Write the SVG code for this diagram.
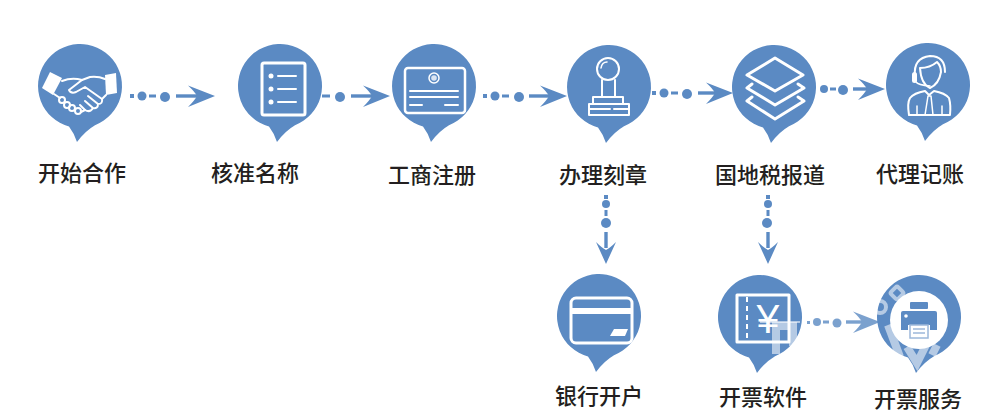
<svg xmlns="http://www.w3.org/2000/svg" width="985" height="419" viewBox="0 0 985 419">
<style>
.b{fill:#5b8ac3}
.s{fill:none;stroke:#fff;stroke-width:2;stroke-linejoin:round;stroke-linecap:round}
.w{fill:#fff}
.l{font-family:"Noto Sans CJK SC","Liberation Sans",sans-serif;font-size:22px;font-weight:500;fill:#231f20;text-anchor:middle}
.c{fill:none;stroke:#5b8ac3;stroke-width:3.4}
.d{fill:#5b8ac3}
.m{fill:none;stroke:#fff;stroke-opacity:.55;stroke-width:8}
</style>
<defs>
<path id="bubble" class="b" d="M-11 40.5A42 42 0 1 1 15 39.2Q5 45 -3 56Q-6 47 -11 40.5Z"/>
<path id="headR" class="d" d="M0 0L-27 -10.5Q-20 -4 -18 0Q-20 4 -27 11Z"/>
<path id="headD" class="d" d="M0 0L-10 -22Q-4 -16 0 -14Q4 -16 10 -22Z"/>
</defs>
<rect width="985" height="419" fill="#fff"/>
<g id="connectors">
<g id="c1"><rect class="d" x="130" y="94" width="4" height="4"/><circle class="d" cx="142" cy="96" r="4.500"/><rect class="d" x="149" y="94.500" width="7" height="3"/><circle class="d" cx="165" cy="97" r="5"/><path class="c" d="M176 96H200"/><use href="#headR" x="215" y="96"/></g>
<g id="c2"><rect class="d" x="322" y="94.500" width="8" height="3"/><circle class="d" cx="340" cy="97" r="5"/><path class="c" d="M351 96H375"/><use href="#headR" x="390" y="96"/></g>
<g id="c3"><rect class="d" x="483" y="94" width="4" height="4"/><circle class="d" cx="495" cy="96" r="4.500"/><rect class="d" x="502" y="94.500" width="7" height="3"/><circle class="d" cx="519" cy="97" r="5"/><path class="c" d="M529 96H552"/><use href="#headR" x="567" y="96"/></g>
<g id="c4"><rect class="d" x="652" y="91" width="4" height="4"/><circle class="d" cx="664" cy="93" r="4.500"/><rect class="d" x="671" y="91.500" width="7" height="3"/><circle class="d" cx="687" cy="94" r="5"/><path class="c" d="M698 93H718"/><use href="#headR" x="733" y="93"/></g>
<g id="c5"><circle class="d" cx="824" cy="89" r="4"/><rect class="d" x="830" y="87.500" width="6" height="3"/><circle class="d" cx="843" cy="90" r="5"/><path class="c" d="M853 89H870"/><use href="#headR" x="885" y="89"/></g>
<g id="c6"><rect class="d" x="604" y="195" width="4" height="4"/><circle class="d" cx="606" cy="204" r="4"/><rect class="d" x="604.500" y="210" width="3" height="6"/><circle class="d" cx="606" cy="223" r="5"/><path class="c" d="M606 232V248"/><use href="#headD" x="606" y="264"/></g>
<g id="c7"><rect class="d" x="766" y="195" width="4" height="4"/><circle class="d" cx="768" cy="204" r="4"/><rect class="d" x="766.500" y="210" width="3" height="6"/><circle class="d" cx="767" cy="223" r="5"/><path class="c" d="M768 232V248"/><use href="#headD" x="768" y="264"/></g>
<g id="c8" opacity=".8"><rect class="d" x="807" y="321" width="3" height="3"/><circle class="d" cx="817" cy="322" r="4"/><rect class="d" x="823" y="320.500" width="6" height="3"/><circle class="d" cx="837" cy="323" r="4.500"/><path class="c" d="M846 322H865"/><use href="#headR" x="880" y="322"/></g>
</g>
<g id="n1"><use href="#bubble" x="80" y="86"/>
<path class="w" d="M50 72L62 78L53 95L42 88Z"/><path class="w" d="M105 75L116 73L117 93L106 95Z"/>
<path class="s" d="M62 81Q72 77 82 80L90 77Q98 76 105 79"/>
<path class="s" d="M82 80L69 90Q71 94 76 92L85 87L102 99Q103 104 98 104L88 96M98 104Q98 109 93 108L85 101M93 108Q90 113 85 110L80 105"/>
<path class="s" d="M54 94L60 98"/>
<circle class="s" cx="62" cy="100" r="3"/><circle class="s" cx="67" cy="105" r="3"/><circle class="s" cx="72" cy="108" r="3"/><circle class="s" cx="78" cy="111" r="3"/>
<path class="s" d="M81 112L85 110"/>
<path class="s" d="M102 99L106 95"/></g>
<g id="n2"><use href="#bubble" x="280" y="86"/>
<rect class="s" style="stroke-width:3" x="262" y="63" width="43" height="52" rx="2"/>
<circle class="w" cx="271" cy="76" r="2.500"/><circle class="w" cx="271" cy="89" r="2.500"/><circle class="w" cx="271" cy="102" r="2.500"/>
<path class="s" d="M278 76H296M278 89H296M278 102H296"/></g>
<g id="n3"><use href="#bubble" x="434" y="86"/>
<rect class="s" style="stroke-width:2.500" x="405" y="68" width="60" height="45" rx="3"/>
<circle class="s" style="stroke-width:1.500" cx="434" cy="78" r="5"/><circle fill="#dbe5f2" cx="434" cy="78" r="2.800"/>
<path class="s" d="M410 91H458M410 97H458M410 105H422M445 105H458"/></g>
<g id="n4"><use href="#bubble" x="609" y="87"/>
<circle class="s" cx="608" cy="69" r="11"/><path class="s" style="stroke-width:1.500" d="M601 68Q602 62 607 62"/>
<path class="s" d="M602 80V97M615 80V97M593 104V97H623V104M589 104H629V115H589ZM589 109H610M614 109H629"/></g>
<g id="n5"><use href="#bubble" x="774" y="87"/>
<path class="s" style="stroke-width:3" d="M747 75L775 58L803 75L775 91Z"/>
<path class="s" style="stroke-width:3" d="M752 84L747 88L775 105L804 88L798 84"/>
<path class="s" style="stroke-width:3" d="M752 97L747 101L775 119L804 101L798 97"/></g>
<g id="n6"><use href="#bubble" x="928" y="85"/>
<path class="s" d="M915 76Q913 58 930 56Q945 56 945 72"/>
<rect class="w" x="912" y="72" width="5" height="11" rx="2.500"/>
<path class="s" d="M920 68Q930 68 937 62Q941 66 941 72Q939 84 930 88Q921 84 920 68Z"/>
<path class="s" style="stroke-width:1.500" d="M916 82Q918 85 930 86"/>
<path class="s" d="M909 115Q907 103 910 98Q914 93 925 91L929 95L934 91Q945 93 949 98Q951 105 950 115Z"/>
<path class="s" style="stroke-width:1.500" d="M928 96L925 115H933L931 96ZM917 106V115M942 106V115"/></g>
<g id="n7"><use href="#bubble" x="599" y="316"/>
<rect class="s" style="stroke-width:3" x="571" y="298" width="61" height="45" rx="5"/>
<rect class="w" x="571" y="308" width="61" height="6"/>
<path class="w" d="M614 329H628L625 336H610Z"/></g>
<g id="n8"><use href="#bubble" x="760" y="317"/>
<rect class="s" style="stroke-width:3" x="737" y="295" width="52" height="47"/>
<path class="s" style="stroke-dasharray:5 4;stroke-linecap:butt" d="M747 297V340"/>
<text x="768" y="333" font-family="Liberation Sans,sans-serif" font-size="41" fill="#fff" text-anchor="middle">¥</text></g>
<g id="n9"><use href="#bubble" x="919" y="317"/>
<circle class="w" cx="919" cy="320" r="29"/>
<rect class="b" x="910" y="302" width="18" height="7" rx="1"/>
<path class="b" d="M903 311H935Q937 311 937 313V330H901V313Q901 311 903 311Z"/>
<circle class="w" cx="906" cy="316" r="1.800"/>
<rect x="908" y="325" width="22" height="14" fill="#fff"/>
<rect x="910" y="325" width="18" height="13" fill="none" stroke="#9db8da" stroke-width="1.500"/>
<path d="M913 329H925M913 333H925" stroke="#9db8da" stroke-width="1.500"/></g>
<g id="watermark">
<path class="m" d="M776 354V326H793V346"/>
<path class="m" style="stroke-width:2" d="M760 322H800"/>
<path class="m" d="M888 325L900 357M907 347L917 363L927 343M932 355L937 345"/>
<circle class="m" style="stroke-width:4" cx="880" cy="307" r="6"/>
<rect class="m" style="stroke-width:4" x="892" y="288" width="10" height="10" rx="2" transform="rotate(45 897 293)"/>
</g>
<g id="labels">
<text class="l" x="82" y="181">开始合作</text>
<text class="l" x="255" y="181">核准名称</text>
<text class="l" x="432" y="183">工商注册</text>
<text class="l" x="603" y="183">办理刻章</text>
<text class="l" x="770" y="183">国地税报道</text>
<text class="l" x="920" y="182">代理记账</text>
<text class="l" x="599" y="404">银行开户</text>
<text class="l" x="763" y="405">开票软件</text>
<text class="l" x="918" y="407">开票服务</text>
</g>
</svg>
